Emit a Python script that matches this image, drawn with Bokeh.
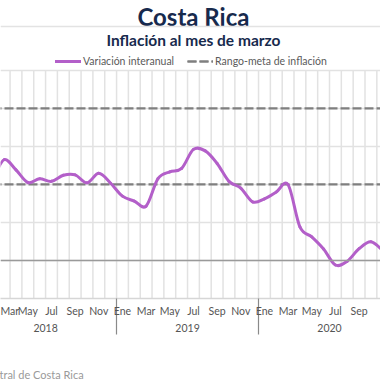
from bokeh.plotting import figure
from bokeh.models import (Range1d, FixedTicker, LinearAxis, Span, Label, Legend, LegendItem,
                          Title, ColumnDataSource)
from bokeh.embed import file_html
from bokeh.resources import INLINE

# ---- data ----
anios = ["2018", "2019", "2020"]
meses = ["Ene", "Feb", "Mar", "Abr", "May", "Jun", "Jul", "Ago", "Sep", "Oct", "Nov", "Dic"]
# Variación interanual (%), Ene-2018 ... Nov-2020
variacion = [2.40, 2.20, 2.65, 2.38, 2.05, 2.15, 2.08, 2.24, 2.25, 2.04, 2.29, 2.03,
             1.69, 1.56, 1.43, 2.15, 2.33, 2.42, 2.92, 2.88, 2.55, 2.08, 1.90, 1.54,
             1.62, 1.80, 1.99, 0.88, 0.62, 0.30, -0.12, -0.02, 0.31, 0.49, 0.26]
meta_inferior = 2.0
meta_superior = 4.0
eje_y = [-1, 0, 1, 2, 3, 4, 5]

n = len(variacion)
idx = list(range(n))

FONT = "Lato"
NAVY = "#172a4d"
PURPLE = "#b35fc9"
GRID = "#e2e2e2"

# y range extends above the plotting band to host titles and legend
p = figure(width=380, height=380, output_backend="svg", toolbar_location=None,
           x_range=Range1d(1.69, 33.81), y_range=Range1d(eje_y[0], 6.834),
           y_axis_location=None,
           min_border_left=0, min_border_right=0, min_border_top=0, min_border_bottom=81)
p.outline_line_color = None
p.xgrid.visible = False
p.ygrid.ticker = FixedTicker(ticks=eje_y)
p.ygrid.grid_line_color = GRID
p.ygrid.grid_line_width = 1.5

# vertical month-band grid lines, limited to the value band
limites = [i - 0.5 for i in range(n + 1)]
p.segment(x0=limites, y0=[eje_y[0]] * len(limites), x1=limites, y1=[eje_y[-1]] * len(limites),
          line_color=GRID, line_width=1.5)

p.add_layout(Span(location=0, dimension="width", line_color="#9a9a9a", line_width=1.5))

# target range lines
r_sup = p.line(idx, [meta_superior] * n, line_color="#7f7f7f", line_width=2.2, line_dash="9 3")
r_inf = p.line(idx, [meta_inferior] * n, line_color="#7f7f7f", line_width=2.2, line_dash="9 3")

# inflation line, smoothed (Catmull-Rom -> cubic Bezier through the monthly values)
xs = [idx[0]] + idx + [idx[-1]]
ys = [variacion[0]] + variacion + [variacion[-1]]
seg = dict(x0=[], y0=[], x1=[], y1=[], cx0=[], cy0=[], cx1=[], cy1=[])
for k in range(1, n):
    seg["x0"].append(xs[k]); seg["y0"].append(ys[k])
    seg["x1"].append(xs[k + 1]); seg["y1"].append(ys[k + 1])
    seg["cx0"].append(xs[k] + (xs[k + 1] - xs[k - 1]) / 6)
    seg["cy0"].append(ys[k] + (ys[k + 1] - ys[k - 1]) / 6)
    seg["cx1"].append(xs[k + 1] - (xs[k + 2] - xs[k]) / 6)
    seg["cy1"].append(ys[k + 1] - (ys[k + 2] - ys[k]) / 6)
r_var = p.bezier(x0="x0", y0="y0", x1="x1", y1="y1", cx0="cx0", cy0="cy0", cx1="cx1", cy1="cy1",
                 source=ColumnDataSource(seg), line_color=PURPLE, line_width=3, line_cap="round")

# month axis
ticks_m = [i for i in idx if i % 2 == 0]
sep_anio = [i - 0.5 for i in idx if i % 12 == 0 and i > 0]
ax_m = p.xaxis[0]
ax_m.ticker = FixedTicker(ticks=ticks_m, minor_ticks=sep_anio)
ax_m.major_label_overrides = {i: meses[i % 12] for i in ticks_m}
ax_m.major_tick_out = 0
ax_m.major_tick_in = 0
ax_m.minor_tick_out = 36
ax_m.minor_tick_in = 0
ax_m.minor_tick_line_color = "#8a8a8a"
ax_m.minor_tick_line_width = 1.2
ax_m.axis_line_color = "#d6d6d6"
ax_m.axis_line_width = 1.5
ax_m.major_label_text_font = FONT
ax_m.major_label_text_font_size = "10.5px"
ax_m.major_label_text_color = "#555555"
ax_m.major_label_standoff = -30

# year axis
centros = [12 * k + 5.5 for k in range(len(anios))]
ax_y = LinearAxis(ticker=FixedTicker(ticks=centros),
                  major_label_overrides={c: a for c, a in zip(centros, anios)})
ax_y.major_tick_out = 0
ax_y.major_tick_in = 0
ax_y.minor_tick_out = 0
ax_y.minor_tick_in = 0
ax_y.axis_line_color = None
ax_y.major_label_text_font = FONT
ax_y.major_label_text_font_size = "10.5px"
ax_y.major_label_text_color = "#555555"
ax_y.major_label_standoff = 4
p.add_layout(ax_y, "below")

# invisible spacer axis between the year labels and the source note
spacer = LinearAxis(ticker=FixedTicker(ticks=[centros[1]]),
                    major_label_overrides={centros[1]: " "},
                    major_tick_out=27, major_tick_in=0, minor_tick_out=0, minor_tick_in=0,
                    major_label_standoff=0, major_label_text_font_size="1px",
                    axis_line_color=None, major_tick_line_color=None, minor_tick_line_color=None)
p.add_layout(spacer, "below")

# source
p.add_layout(Title(text="Fuente: Banco Central de Costa Rica", align="left", offset=-92,
                   standoff=0, vertical_align="bottom", text_font=FONT, text_font_style="normal",
                   text_font_size="11px", text_color="#9a9a9a"), "below")

# legend
legend = Legend(items=[LegendItem(label="Variación interanual", renderers=[r_var]),
                       LegendItem(label="Rango-meta de inflación", renderers=[r_sup, r_inf])],
                orientation="horizontal", location=(55, 231),
                label_text_font=FONT, label_text_font_size="10.5px", label_text_color="#5a5a5a",
                glyph_width=26, glyph_height=12, label_height=12, label_standoff=2,
                spacing=13, padding=0, margin=0,
                border_line_color=None, background_fill_alpha=0)
p.add_layout(legend, "center")

# titles
p.add_layout(Label(x=18.0, y=6.415, text="Costa Rica", text_align="center",
                   text_baseline="middle", text_font=FONT, text_font_style="bold",
                   text_font_size="24px", text_color=NAVY))
p.add_layout(Span(location=6.153, dimension="width", line_color="#e3e3e3", line_width=1.5))
p.add_layout(Label(x=18.0, y=5.80, text="Inflación al mes de marzo", text_align="center",
                   text_baseline="middle", text_font=FONT, text_font_style="bold",
                   text_font_size="15.5px", text_color=NAVY))

open("out.html", "w").write(file_html(p, INLINE))
